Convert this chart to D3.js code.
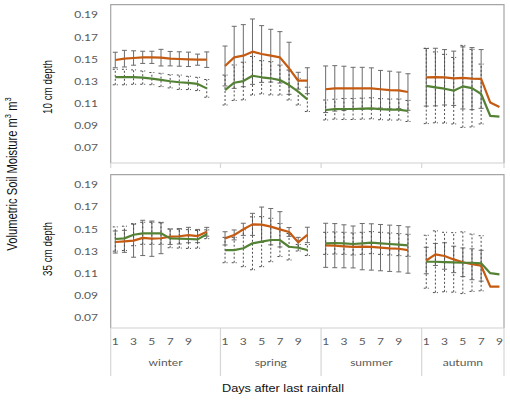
<!DOCTYPE html>
<html><head><meta charset="utf-8">
<script src="https://cdn.jsdelivr.net/npm/d3@7"></script>
<style>body{margin:0;background:#fff}svg{display:block}</style>
</head><body>
<svg id="chart" width="510" height="403"></svg>
<script>
// ---------- data ----------
const seasons = ["winter", "spring", "summer", "autumn"];
const slotsPerSeason = [12, 11, 11, 9];          // category slots on the axis
const dayTickLabels = [1, 3, 5, 7, 9];
const yTicks = [0.07, 0.09, 0.11, 0.13, 0.15, 0.17, 0.19];
const depthLabels = ["10 cm depth", "35 cm depth"];
const xTitle = "Days after last rainfall";

// 10 cm depth, orange series (solid error bars)
const orange10 = [
  [0.1494, 0.1506, 0.1512, 0.1518, 0.1518, 0.1515, 0.1506, 0.1503, 0.1500, 0.1497, 0.1497],
  [0.1440, 0.1518, 0.1533, 0.1569, 0.1548, 0.1533, 0.1518, 0.1419, 0.1307, 0.1307],
  [0.1230, 0.1238, 0.1238, 0.1238, 0.1238, 0.1238, 0.1230, 0.1223, 0.1220, 0.1205],
  [0.1338, 0.1340, 0.1338, 0.1329, 0.1332, 0.1326, 0.1323, 0.1110, 0.1070]
];
const orange10Err = [
  [0.007, 0.0075, 0.0065, 0.0055, 0.0055, 0.0075, 0.0065, 0.0065, 0.0065, 0.005, 0.007],
  [0.018, 0.028, 0.028, 0.0295, 0.0256, 0.0238, 0.0232, 0.0235, 0.0076, 0.0117],
  [0.021, 0.0205, 0.020, 0.019, 0.019, 0.0185, 0.017, 0.017, 0.0165, 0.0165],
  [0.026, 0.026, 0.025, 0.0245, 0.028, 0.028, 0.0265, null, null]
];
// 10 cm depth, green series (dashed error bars)
const green10 = [
  [0.1340, 0.1340, 0.1340, 0.1335, 0.1326, 0.1314, 0.1302, 0.1293, 0.1287, 0.1278, 0.1238],
  [0.1223, 0.1289, 0.1304, 0.1352, 0.1338, 0.1329, 0.1313, 0.1268, 0.1208, 0.1139],
  [0.1043, 0.1050, 0.1052, 0.1052, 0.1055, 0.1058, 0.1050, 0.1047, 0.1047, 0.1034],
  [0.1260, 0.1247, 0.1235, 0.1217, 0.1256, 0.1240, 0.1187, 0.0989, 0.0983]
];
const green10Err = [
  [0.007, 0.007, 0.0065, 0.006, 0.0055, 0.006, 0.006, 0.0065, 0.006, 0.006, 0.008],
  [0.0135, 0.016, 0.017, 0.0174, 0.015, 0.015, 0.0135, 0.0135, 0.012, 0.011],
  [0.009, 0.009, 0.0095, 0.0095, 0.0095, 0.0095, 0.0095, 0.0095, 0.0095, 0.0095],
  [0.034, 0.032, 0.031, 0.030, 0.037, 0.035, 0.027, null, null]
];
// 35 cm depth, orange series
const orange35 = [
  [0.1383, 0.1389, 0.1395, 0.1420, 0.1413, 0.1417, 0.1431, 0.1435, 0.1446, 0.1437, 0.1476],
  [0.1416, 0.1447, 0.1498, 0.1543, 0.1540, 0.1522, 0.1498, 0.1474, 0.1380, 0.1447],
  [0.1353, 0.1350, 0.1344, 0.1338, 0.1341, 0.1338, 0.1332, 0.1326, 0.1322, 0.1310],
  [0.1215, 0.1270, 0.1256, 0.1225, 0.1199, 0.1181, 0.1168, 0.0978, 0.0978]
];
const orange35Err = [
  [0.010, 0.010, 0.015, 0.016, 0.016, 0.014, 0.007, 0.007, 0.007, 0.006, 0.004],
  [0.006, 0.0045, 0.0055, 0.010, 0.016, 0.0165, 0.016, 0.004, 0.0045, 0.007],
  [0.020, 0.020, 0.0195, 0.019, 0.021, 0.021, 0.021, 0.021, 0.021, 0.021],
  [0.012, 0.010, 0.012, 0.012, 0.013, 0.014, 0.014, null, null]
];
// 35 cm depth, green series
const green35 = [
  [0.1410, 0.1416, 0.1449, 0.1462, 0.1462, 0.1462, 0.1416, 0.1413, 0.1410, 0.1407, 0.1453],
  [0.1310, 0.1310, 0.1326, 0.1371, 0.1386, 0.1401, 0.1401, 0.1340, 0.1331, 0.1310],
  [0.1371, 0.1374, 0.1371, 0.1365, 0.1371, 0.1377, 0.1371, 0.1365, 0.1359, 0.1353],
  [0.1204, 0.1204, 0.1201, 0.1198, 0.1195, 0.1195, 0.1190, 0.1100, 0.1090]
];
const green35Err = [
  [0.011, 0.011, 0.010, 0.010, 0.010, 0.010, 0.0085, 0.0085, 0.0085, 0.008, 0.004],
  [0.0115, 0.0115, 0.0167, 0.024, 0.0227, 0.0197, 0.015, 0.012, 0.003, 0.005],
  [0.010, 0.010, 0.010, 0.010, 0.010, 0.010, 0.010, 0.010, 0.010, 0.010],
  [0.024, 0.028, 0.027, 0.027, 0.028, 0.026, 0.025, null, null]
];

// ---------- layout / style ----------
const ORANGE = "#c55a11", GREEN = "#548235";
const K = 1.27; // horizontal stretch of the original picture
const plotL = 110.7, plotR = 504;
const panels = [
  {top: 4.7, bottom: 163, y007: 148, y019: 15, label: depthLabels[0], labelY: 87,
   series: [[orange10, orange10Err, ORANGE, false], [green10, green10Err, GREEN, true]]},
  {top: 174.7, bottom: 328, y007: 317.3, y019: 185, label: depthLabels[1], labelY: 249,
   series: [[orange35, orange35Err, ORANGE, false], [green35, green35Err, GREEN, true]]}
];

const svg = d3.select("#chart");

const keys = [];
seasons.forEach((s, i) => d3.range(1, slotsPerSeason[i] + 1).forEach(d => keys.push(s + "-" + d)));
const x = d3.scaleBand().domain(keys).range([plotL, plotR]).padding(0);
const cx = (s, d) => x(s + "-" + d) + x.bandwidth() / 2;
const bounds = [plotL];
seasons.forEach((s, i) => bounds.push(x(s + "-" + slotsPerSeason[i]) + x.bandwidth()));

function hText(sel, tx, ty, str, size, family, anchor, fill) {
  return sel.append("text")
    .attr("transform", `translate(${tx},${ty}) scale(${K},1)`)
    .attr("text-anchor", anchor)
    .attr("font-family", family).attr("font-size", size)
    .attr("fill", fill).text(str);
}
function vText(sel, tx, ty, size, family, fill) {
  return sel.append("text")
    .attr("transform", `translate(${tx},${ty}) rotate(-90) scale(1,${K})`)
    .attr("text-anchor", "middle")
    .attr("font-family", family).attr("font-size", size)
    .attr("fill", fill);
}

panels.forEach((p, pi) => {
  const y = d3.scaleLinear().domain([0.07, 0.19]).range([p.y007, p.y019]);
  const g = svg.append("g");

  // y tick labels
  yTicks.forEach(t => {
    hText(g, 98, y(t) + 3.4, d3.format(".2f")(t), 9.5, "Lato, 'Open Sans', sans-serif", "end", "#595959");
  });

  // depth label
  vText(g, 52, p.labelY, 9.8, "'Liberation Sans', Arial, sans-serif", "#111").text(p.label);

  // frame
  g.append("path")
    .attr("d", `M${plotL},${p.bottom}V${p.top}H${plotR}V${p.bottom}`)
    .attr("fill", "none").attr("stroke", "#a6a6a6").attr("stroke-width", 1.2);
  // category axis line
  g.append("line").attr("x1", plotL).attr("x2", plotR).attr("y1", p.bottom).attr("y2", p.bottom)
    .attr("stroke", "#d0d0d0").attr("stroke-width", 1.2);
  const sepLen = pi === 0 ? 5 : 48;
  bounds.forEach(b => {
    g.append("line").attr("x1", b).attr("x2", b).attr("y1", p.bottom).attr("y2", p.bottom + sepLen)
      .attr("stroke", "#d6d6d6").attr("stroke-width", 1.2);
  });

  // error bars
  p.series.forEach(([vals, errs, color, dashed]) => {
    const eg = g.append("g")
      .attr("stroke", dashed ? "#4d4d4d" : "#6b6b6b")
      .attr("stroke-width", 1)
      .attr("stroke-dasharray", dashed ? "2,2" : null)
      .attr("fill", "none");
    seasons.forEach((s, si) => {
      vals[si].forEach((v, di) => {
        const e = errs[si][di];
        if (v == null || e == null) return;
        const px = cx(s, di + 1);
        const y1 = y(v - e), y2 = y(v + e);
        eg.append("line").attr("x1", px).attr("x2", px).attr("y1", y1).attr("y2", y2);
        eg.append("line").attr("x1", px - 2.5).attr("x2", px + 2.5).attr("y1", y1).attr("y2", y1).attr("stroke-dasharray", null);
        eg.append("line").attr("x1", px - 2.5).attr("x2", px + 2.5).attr("y1", y2).attr("y2", y2).attr("stroke-dasharray", null);
      });
    });
  });

  // lines
  p.series.forEach(([vals, errs, color]) => {
    seasons.forEach((s, si) => {
      const pts = vals[si].map((v, di) => ({x: cx(s, di + 1), v}));
      g.append("path").datum(pts)
        .attr("d", d3.line().defined(d => d.v != null).x(d => d.x).y(d => y(d.v)))
        .attr("fill", "none").attr("stroke", color).attr("stroke-width", 2.2)
        .attr("stroke-linejoin", "round");
    });
  });
});

// bottom category labels
const axisG = svg.append("g");
seasons.forEach((s, si) => {
  dayTickLabels.forEach(d => {
    if (d > slotsPerSeason[si]) return;
    hText(axisG, cx(s, d), 345, String(d), 9.5, "Lato, 'Open Sans', sans-serif", "middle", "#595959");
  });
  hText(axisG, (bounds[si] + bounds[si + 1]) / 2, 366, s, 9.5, "Lato, 'Open Sans', sans-serif", "middle", "#595959");
});

// axis titles
hText(svg, 283, 391.5, xTitle, 10, "'Liberation Sans', Arial, sans-serif", "middle", "#111");
const yt = vText(svg, 17, 174, 11.2, "'Liberation Sans', Arial, sans-serif", "#111");
yt.append("tspan").text("Volumetric Soil Moisture m");
yt.append("tspan").attr("baseline-shift", "super").attr("font-size", 7.5).text("3");
yt.append("tspan").text(" m");
yt.append("tspan").attr("baseline-shift", "super").attr("font-size", 7.5).text("3");
</script>
</body></html>
